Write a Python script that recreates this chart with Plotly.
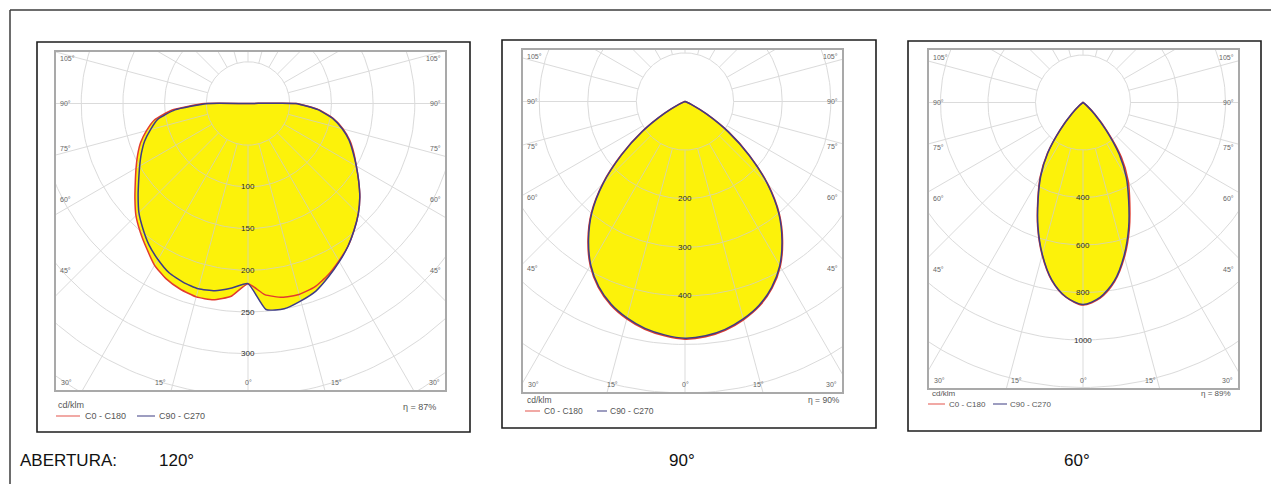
import math
import numpy as np
import plotly.graph_objects as go

# ---------------- data ----------------
# gamma angle in degrees: negative = left half-plane (C180 / C270), positive = right (C0 / C90)
GAMMA = [-180, -90, -85, -80, -75, -70, -65, -60, -55, -50, -45, -40, -35, -30,
         -25, -20, -15, -10, -5, 0, 5, 10, 15, 20, 25, 30, 35, 40, 45, 50, 55,
         60, 65, 70, 75, 80, 85, 90, 180]

# Panel 1 - 120 deg aperture (cd/klm)
P1_C0_C180 = [0, 52, 92, 114, 126, 137, 146, 155, 165, 177, 190, 201, 212, 224, 232, 237, 240, 239, 232,
              216, 230, 236, 237, 234, 227, 218, 209, 198, 187, 175, 162, 150, 140, 130, 118, 104, 85, 58, 0]
P1_C90_C270 = [0, 48, 88, 110, 121, 132, 141, 150, 160, 172, 185, 196, 207, 216, 224, 228, 230, 228, 222,
               216, 248, 250, 245, 239, 229, 219, 209, 198, 187, 175, 162, 150, 139, 129, 117, 103, 84, 57, 0]

# Panel 2 - 90 deg aperture
P2_C0_C180 = [0, 0, 0, 0, 0, 3, 15, 50, 108, 172, 240, 300, 348, 390, 422, 446, 463, 476, 484,
              489, 486, 478, 465, 448, 424, 392, 350, 302, 242, 174, 110, 52, 16, 3, 0, 0, 0, 0, 0]
P2_C90_C270 = [0, 0, 0, 0, 0, 2, 14, 48, 106, 170, 238, 298, 346, 388, 420, 444, 461, 474, 482,
               487, 484, 476, 463, 446, 422, 390, 348, 300, 240, 172, 108, 50, 15, 3, 0, 0, 0, 0, 0]

# Panel 3 - 60 deg aperture
P3_C0_C180 = [0, 0, 0, 0, 0, 0, 0, 0, 5, 22, 68, 150, 262, 360, 450, 558, 665, 760, 823,
              853, 827, 766, 674, 570, 466, 380, 282, 160, 72, 24, 5, 0, 0, 0, 0, 0, 0, 0, 0]
P3_C90_C270 = [0, 0, 0, 0, 0, 0, 0, 0, 4, 20, 65, 146, 258, 355, 447, 555, 662, 758, 822,
               851, 824, 762, 668, 562, 455, 365, 265, 150, 68, 22, 5, 0, 0, 0, 0, 0, 0, 0, 0]

APERTURES = ["120°", "90°", "60°"]
EFFICIENCY = ["87%", "90%", "89%"]
RING_STEPS = [50, 100, 200]
RING_LABELS = [[100, 150, 200, 250, 300], [200, 300, 400], [400, 600, 800, 1000]]
SIDE_ANGLES = [105, 90, 75, 60, 45]
BOTTOM_ANGLES = [15, 0]
CORNER_ANGLE = 30
SERIES_NAMES = ["C0 - C180", "C90 - C270"]
UNIT = "cd/klm"
TITLE_TEXT = "ABERTURA:"

CURVES = [(P1_C0_C180, P1_C90_C270), (P2_C0_C180, P2_C90_C270), (P3_C0_C180, P3_C90_C270)]

# ---------------- layout geometry (screen pixels) ----------------
W, H = 1279, 484
OFF = 8  # page body margin of the html page
GEOM = [
    dict(frame=(37, 42, 470, 432), plot=(56, 52, 445, 390), cx=248, cy=103.5, s=0.834, b15=88, smooth=0.5,
         leg=dict(x=56, y1=405, y2=416, red=(56, 80), t1=83, blue=(137, 155), t2=157, eta=(438, 407), fs=9)),
    dict(frame=(502, 40, 876, 428), plot=(523, 50, 842, 392), cx=685, cy=101.5, s=0.486, b15=73, smooth=0.8,
         leg=dict(x=525, y1=400, y2=411, red=(525, 540), t1=542, blue=(597, 607), t2=608, eta=(842, 400), fs=8.5)),
    dict(frame=(908, 41, 1261, 431), plot=(929, 50, 1238, 388), cx=1083, cy=102.5, s=0.2375, b15=67, smooth=0.8,
         leg=dict(x=930, y1=393, y2=404, red=(928, 945), t1=947, blue=(993, 1007), t2=1008, eta=(1233, 393), fs=8)),
]
TITLE_POS = [(18, 460), (157, 460), (667, 460), (1062, 460)]
SIDE_D_PX = 167

YELLOW = "rgb(252,242,10)"
RED = "#E23A2E"
BLUE = "#3E3C86"
GRID = "#CFCFCF"


def fx(px):
    return (px - OFF) / W


def fy(py):
    return 1 - (py - OFF) / H


fig = go.Figure()
shapes = []
annotations = []

g = np.radians(np.array(GAMMA, dtype=float))

for i, (geo, (c0, c90)) in enumerate(zip(GEOM, CURVES), start=1):
    xa = "x" if i == 1 else f"x{i}"
    ya = "y" if i == 1 else f"y{i}"
    x0p, y0p, x1p, y1p = geo["plot"]
    cx, cy, s = geo["cx"], geo["cy"], geo["s"]
    xr = [(x0p - cx) / s, (x1p - cx) / s]
    yr = [-(y1p - cy) / s, (cy - y0p) / s]
    sm = geo["smooth"]

    # fill (union of both planes)
    i_fill = np.maximum(np.array(c0, float), np.array(c90, float))
    fig.add_trace(go.Scatter(x=i_fill * np.sin(g), y=-i_fill * np.cos(g), mode="lines",
                             fill="toself", fillcolor=YELLOW,
                             line=dict(width=0, color=YELLOW, shape="spline", smoothing=sm),
                             hoverinfo="skip", showlegend=False, xaxis=xa, yaxis=ya))

    # grid: rings
    step = RING_STEPS[i - 1]
    rmax = math.hypot(max(abs(xr[0]), abs(xr[1])), max(abs(yr[0]), abs(yr[1])))
    n = int(math.ceil(rmax / step)) + 1
    phi = np.linspace(0, 2 * np.pi, 241)
    gx, gy = [], []
    for k in range(1, n + 1):
        r = k * step
        gx += list(r * np.cos(phi)) + [None]
        gy += list(r * np.sin(phi)) + [None]
    # grid: radial lines every 15 deg starting at first ring
    for a in range(0, 360, 15):
        t = math.radians(a)
        gx += [step * math.sin(t), n * step * math.sin(t), None]
        gy += [-step * math.cos(t), -n * step * math.cos(t), None]
    fig.add_trace(go.Scatter(x=gx, y=gy, mode="lines", line=dict(color=GRID, width=1),
                             opacity=0.75, hoverinfo="skip", showlegend=False, xaxis=xa, yaxis=ya))

    # curves
    for vals, col in ((c0, RED), (c90, BLUE)):
        v = np.array(vals, float)
        fig.add_trace(go.Scatter(x=v * np.sin(g), y=-v * np.cos(g), mode="lines",
                                 line=dict(color=col, width=1.5, shape="spline", smoothing=sm),
                                 hoverinfo="skip", showlegend=False, xaxis=xa, yaxis=ya))

    ax_common = dict(showgrid=False, zeroline=False, showticklabels=False, ticks="",
                     showline=True, mirror=True, linecolor="#A9A9A9", linewidth=1.5, fixedrange=True)
    fig.update_layout(**{
        ("xaxis" if i == 1 else f"xaxis{i}"): dict(domain=[fx(x0p), fx(x1p)], range=xr, anchor=ya, **ax_common),
        ("yaxis" if i == 1 else f"yaxis{i}"): dict(domain=[fy(y1p), fy(y0p)], range=yr, anchor=xa, **ax_common),
    })

    # ring labels
    for r in RING_LABELS[i - 1]:
        annotations.append(dict(x=0, y=-r, xref=xa, yref=ya, text=str(r), showarrow=False,
                                font=dict(family="Liberation Sans, Arial", size=8, color="#2a2a2a")))
    # side angle labels
    D = SIDE_D_PX / s
    for a in SIDE_ANGLES:
        yy = 0.0 if a == 90 else -D / math.tan(math.radians(a))
        for xx, anc, sh in ((xr[0], "left", 2), (xr[1], "right", -2)):
            annotations.append(dict(x=xx, y=yy, xref=xa, yref=ya, text=f"{a}°", showarrow=False,
                                    xanchor=anc, xshift=sh,
                                    font=dict(family="Liberation Sans, Arial", size=7, color="#666666")))
    # bottom angle labels
    B = geo["b15"] / s / math.tan(math.radians(15))
    for a in BOTTOM_ANGLES:
        xs = [0.0] if a == 0 else [-B * math.tan(math.radians(a)), B * math.tan(math.radians(a))]
        for xx in xs:
            annotations.append(dict(x=xx, y=yr[0], xref=xa, yref=ya, text=f"{a}°", showarrow=False,
                                    yanchor="bottom", yshift=2,
                                    font=dict(family="Liberation Sans, Arial", size=7, color="#666666")))
    for xx, anc, sh in ((xr[0], "left", 3), (xr[1], "right", -3)):
        annotations.append(dict(x=xx, y=yr[0], xref=xa, yref=ya, text=f"{CORNER_ANGLE}°", showarrow=False,
                                xanchor=anc, xshift=sh, yanchor="bottom", yshift=2,
                                font=dict(family="Liberation Sans, Arial", size=7, color="#666666")))

    # panel frame
    fx0, fy0, fx1, fy1 = geo["frame"]
    shapes.append(dict(type="rect", xref="paper", yref="paper", x0=fx(fx0), x1=fx(fx1), y0=fy(fy1), y1=fy(fy0),
                       line=dict(color="#1e1e1e", width=1.6)))

    # legend under the diagram
    L = geo["leg"]
    lf = dict(family="Liberation Sans, Arial", size=L["fs"], color="#555555")
    annotations.append(dict(x=fx(L["x"]), y=fy(L["y1"]), xref="paper", yref="paper", text=UNIT,
                            showarrow=False, xanchor="left", yanchor="middle", font=lf))
    shapes.append(dict(type="line", xref="paper", yref="paper", x0=fx(L["red"][0]), x1=fx(L["red"][1]),
                       y0=fy(L["y2"]), y1=fy(L["y2"]), line=dict(color="#E8706A", width=1.2)))
    annotations.append(dict(x=fx(L["t1"]), y=fy(L["y2"]), xref="paper", yref="paper", text=SERIES_NAMES[0],
                            showarrow=False, xanchor="left", yanchor="middle", font=lf))
    shapes.append(dict(type="line", xref="paper", yref="paper", x0=fx(L["blue"][0]), x1=fx(L["blue"][1]),
                       y0=fy(L["y2"]), y1=fy(L["y2"]), line=dict(color="#5C5C96", width=1.2)))
    annotations.append(dict(x=fx(L["t2"]), y=fy(L["y2"]), xref="paper", yref="paper", text=SERIES_NAMES[1],
                            showarrow=False, xanchor="left", yanchor="middle", font=lf))
    annotations.append(dict(x=fx(L["eta"][0]), y=fy(L["eta"][1]), xref="paper", yref="paper",
                            text=f"η = {EFFICIENCY[i - 1]}", showarrow=False, xanchor="right",
                            yanchor="middle", font=lf))

# outer border (top and left lines)
shapes.append(dict(type="line", xref="paper", yref="paper", x0=fx(10), x1=1.0, y0=fy(10), y1=fy(10),
                   line=dict(color="#3c3c3c", width=1.5)))
shapes.append(dict(type="line", xref="paper", yref="paper", x0=fx(10), x1=fx(10), y0=fy(10), y1=0.0,
                   line=dict(color="#3c3c3c", width=1.5)))

# bottom caption
caption = [TITLE_TEXT] + APERTURES
for (px, py), txt in zip(TITLE_POS, caption):
    annotations.append(dict(x=fx(px), y=fy(py), xref="paper", yref="paper", text=txt, showarrow=False,
                            xanchor="left", yanchor="middle",
                            font=dict(family="Liberation Sans, Arial", size=17, color="#111111")))

fig.update_layout(width=W, height=H, autosize=False, margin=dict(l=0, r=0, t=0, b=0),
                  paper_bgcolor="white", plot_bgcolor="white", showlegend=False,
                  shapes=shapes, annotations=annotations)

fig.write_html("out.html")
